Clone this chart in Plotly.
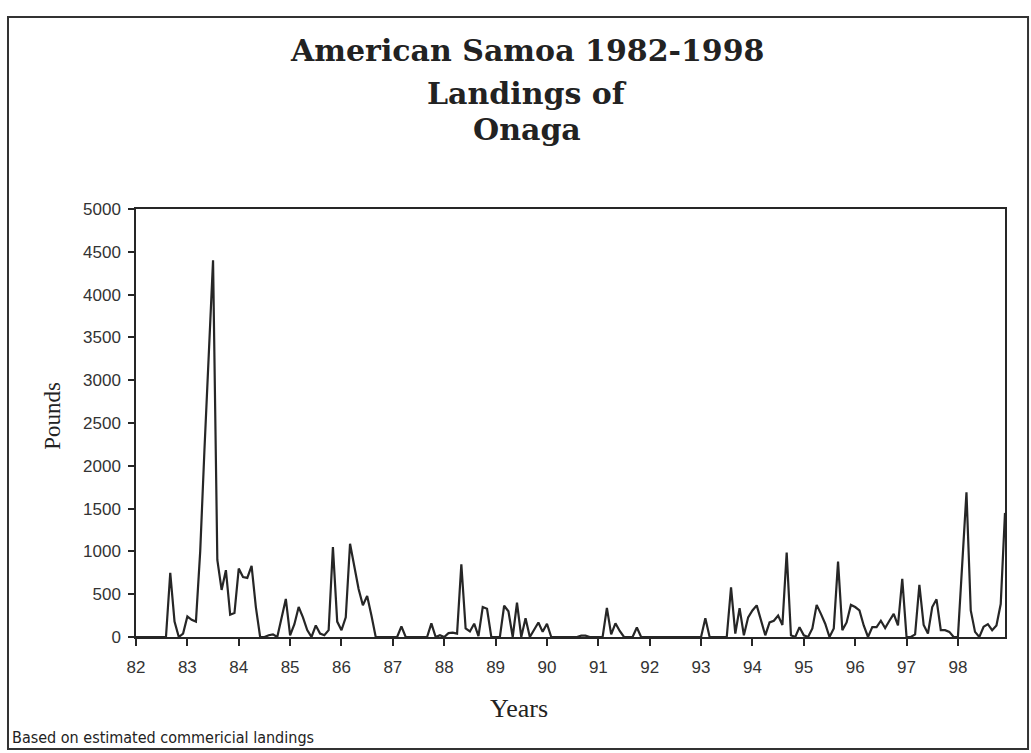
import plotly.graph_objects as go

# Monthly landings (pounds), Jan..Dec per year
y1982 = [0, 0, 0, 0, 0, 0, 0, 0, 750, 180, 0, 40]
y1983 = [240, 200, 180, 1000, 2200, 3400, 4400, 900, 550, 780, 260, 280]
y1984 = [800, 700, 690, 830, 350, 0, 0, 20, 30, 0, 230, 445]
y1985 = [20, 150, 350, 230, 80, 0, 135, 40, 20, 80, 1050, 180]
y1986 = [80, 230, 1090, 800, 560, 370, 480, 250, 0, 0, 0, 0]
y1987 = [0, 0, 125, 0, 0, 0, 0, 0, 0, 160, 0, 20]
y1988 = [0, 45, 50, 40, 850, 100, 65, 155, 10, 350, 330, 0]
y1989 = [0, 0, 365, 300, 0, 400, 0, 220, 0, 80, 170, 60]
y1990 = [155, 0, 0, 0, 0, 0, 0, 0, 15, 15, 0, 0]
y1991 = [0, 0, 340, 30, 160, 70, 0, 0, 0, 110, 0, 0]
y1992 = [0, 0, 0, 0, 0, 0, 0, 0, 0, 0, 0, 0]
y1993 = [0, 220, 0, 0, 0, 0, 0, 580, 40, 337, 20, 230]
y1994 = [310, 370, 180, 20, 170, 190, 250, 140, 985, 20, 0, 115]
y1995 = [20, 0, 100, 375, 270, 155, 0, 100, 880, 80, 170, 375]
y1996 = [350, 310, 135, 0, 115, 115, 190, 105, 190, 270, 135, 680]
y1997 = [0, 0, 30, 610, 140, 40, 350, 440, 80, 80, 60, 0]
y1998 = [0, 840, 1690, 310, 60, 0, 120, 150, 80, 135, 385, 1450]

tick_labels = ["82", "83", "84", "85", "86", "87", "88", "89", "90",
               "91", "92", "93", "94", "95", "96", "97", "98"]
y_ticks = [0, 500, 1000, 1500, 2000, 2500, 3000, 3500, 4000, 4500, 5000]

pounds = (y1982 + y1983 + y1984 + y1985 + y1986 + y1987 + y1988 + y1989 +
          y1990 + y1991 + y1992 + y1993 + y1994 + y1995 + y1996 + y1997 + y1998)
months = list(range(len(pounds)))
year_ticks = [12 * i for i in range(len(tick_labels))]

ink = "#262626"
serif = "Liberation Serif"
sans = "Liberation Sans"

fig = go.Figure()
fig.add_trace(go.Scatter(
    x=months, y=pounds, mode="lines",
    line=dict(color=ink, width=2.2),
    hoverinfo="x+y", showlegend=False,
))

axis_common = dict(showgrid=False, zeroline=False, showline=True,
                   linecolor=ink, linewidth=1.5, mirror=True,
                   ticks="outside", tickcolor=ink, tickwidth=1.5)

fig.update_layout(
    width=1031, height=753,
    margin=dict(l=136, r=26, t=209, b=116),
    paper_bgcolor="white", plot_bgcolor="white",
    xaxis=dict(range=[0, len(pounds) - 1], tickvals=year_ticks, ticktext=tick_labels,
               ticklen=7, tickfont=dict(family=sans, size=17, color="#333"),
               ticklabelstandoff=7, **axis_common),
    yaxis=dict(range=[0, 5000], tickvals=y_ticks, ticklen=6,
               tickfont=dict(family=sans, size=17, color="#333"),
               ticklabelstandoff=4, **axis_common),
    # inner halves of the crossing tick marks
    xaxis2=dict(overlaying="x", anchor="y", range=[0, len(pounds) - 1],
                tickvals=year_ticks, ticks="inside", ticklen=4, tickwidth=1.5,
                tickcolor=ink, showticklabels=False, showgrid=False,
                zeroline=False, showline=False),
    yaxis2=dict(overlaying="y", anchor="x", side="left", range=[0, 5000],
                tickvals=y_ticks, ticks="inside", ticklen=7, tickwidth=1.5,
                tickcolor=ink, showticklabels=False, showgrid=False,
                zeroline=False, showline=False),
)

# paper units: plot area is 869 px wide, 428 px tall
title_lines = ["American Samoa 1982-1998", "Landings of", "Onaga"]
title_y = [1.371, 1.271, 1.185]
for txt, yy in zip(title_lines, title_y):
    fig.add_annotation(text="<b>%s</b>" % txt, x=0.45, y=yy, xref="paper", yref="paper",
                       xanchor="center", yanchor="middle", showarrow=False,
                       font=dict(family="DejaVu Serif", size=30, color="#222"))

fig.add_annotation(text="Years", x=0.441, y=-0.166, xref="paper", yref="paper",
                   xanchor="center", yanchor="middle", showarrow=False,
                   font=dict(family=serif, size=26, color="#222"))
fig.add_annotation(text="Pounds", x=-0.097, y=0.516, xref="paper", yref="paper",
                   xanchor="center", yanchor="middle", textangle=-90, showarrow=False,
                   font=dict(family=serif, size=23, color="#222"))
fig.add_annotation(text="Based on estimated commericial landings", x=-0.145, y=-0.234,
                   xref="paper", yref="paper", xanchor="left", yanchor="middle",
                   showarrow=False,
                   font=dict(family="Liberation Sans Narrow, DejaVu Sans Condensed, Liberation Sans",
                             size=16, color="#222"))

# outer frame of the page
fig.add_shape(type="rect", xref="paper", yref="paper",
              x0=-0.1473, x1=1.0265, y0=-0.2617, y1=1.4486,
              line=dict(color="#333", width=2))

fig.write_html("out.html", config={"displayModeBar": False},
               post_script="document.body.style.margin='0px';")
